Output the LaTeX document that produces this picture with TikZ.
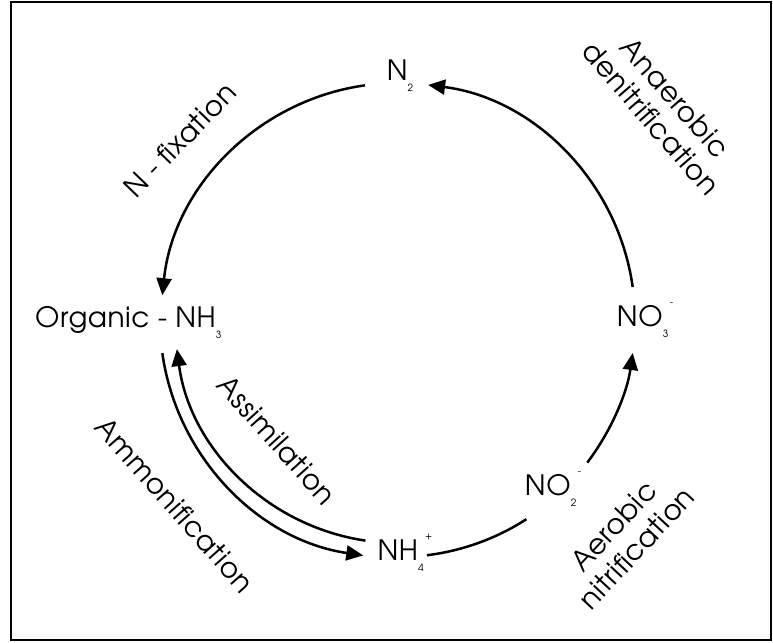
\documentclass[tikz,border=0pt]{standalone}
\usepackage{fontspec}
\setmainfont{TeX Gyre Adventor}[LetterSpace=2]
\usetikzlibrary{arrows.meta}
\newcommand\sbs[1]{\raisebox{-11pt}{\fontsize{10}{10}\selectfont #1}}
\newcommand\sbsp[2]{\rlap{\raisebox{-11pt}{\fontsize{10}{10}\selectfont #1}}\hspace{7pt}\raisebox{21pt}{\fontsize{10}{10}\selectfont #2}}
\begin{document}
\begin{tikzpicture}[x=1pt,y=-1pt,
  flow/.style={line width=2.5pt, -{Triangle[length=17pt,width=15pt]}},
  plain/.style={line width=2.5pt},
  chem/.style={font=\fontsize{28}{32}\selectfont, inner sep=0pt},
  lbl/.style={font=\fontsize{28}{32}\selectfont, align=center, inner sep=0pt}]
\useasboundingbox (0,0) rectangle (773,642);
\draw[line width=1.8pt] (11,2) rectangle (771,640);
\coordinate (C) at (398,320);
% species
\node[chem] (n2) at (400,76) {N\sbs{2}};
\node[chem, anchor=west] (org) at (35,323) {Organic - NH\sbs{3}};
\node[chem] (no3) at (645,320) {NO\sbsp{3}{-}};
\node[chem] (nh4) at (405,553) {NH\sbsp{4}{+}};
\node[chem] (no2) at (553,489) {NO\sbsp{2}{-}};
% labels
\node[lbl, rotate=46] (nfix) at (180,140) {N - fixation};
\node[lbl, rotate=-49] (anaer) at (663,108) {Anaerobic\\denitrification};
\node[lbl, rotate=47] (aer) at (625,537) {Aerobic\\nitrification};
\node[lbl, rotate=-48] (assim) at (277,440) {Assimilation};
\node[lbl, rotate=-48.5] (ammon) at (175,505) {Ammonification};
% arc start points
\path (C) ++(-8:237) coordinate (s1);
\path (C) ++(-98:237) coordinate (s2);
\path (C) ++(-188:238) coordinate (s3);
\path (C) ++(-261.6:223) coordinate (s4);
\path (C) ++(-277:237) coordinate (s5);
\path (C) ++(-323:237) coordinate (s6);
% connectors
\draw[flow] (s1) arc[start angle=-8, end angle=-82.7, radius=237];
\draw[flow] (s2) arc[start angle=-98, end angle=-174, radius=237];
\draw[flow] (s3) arc[start angle=-188, end angle=-261.6, radius=238];
\draw[flow] (s4) arc[start angle=-261.6, end angle=-187.5, radius=223];
\draw[plain] (s5) arc[start angle=-277, end angle=-302.8, radius=237];
\draw[flow] (s6) arc[start angle=-323, end angle=-352, radius=237];
\end{tikzpicture}
\end{document}
